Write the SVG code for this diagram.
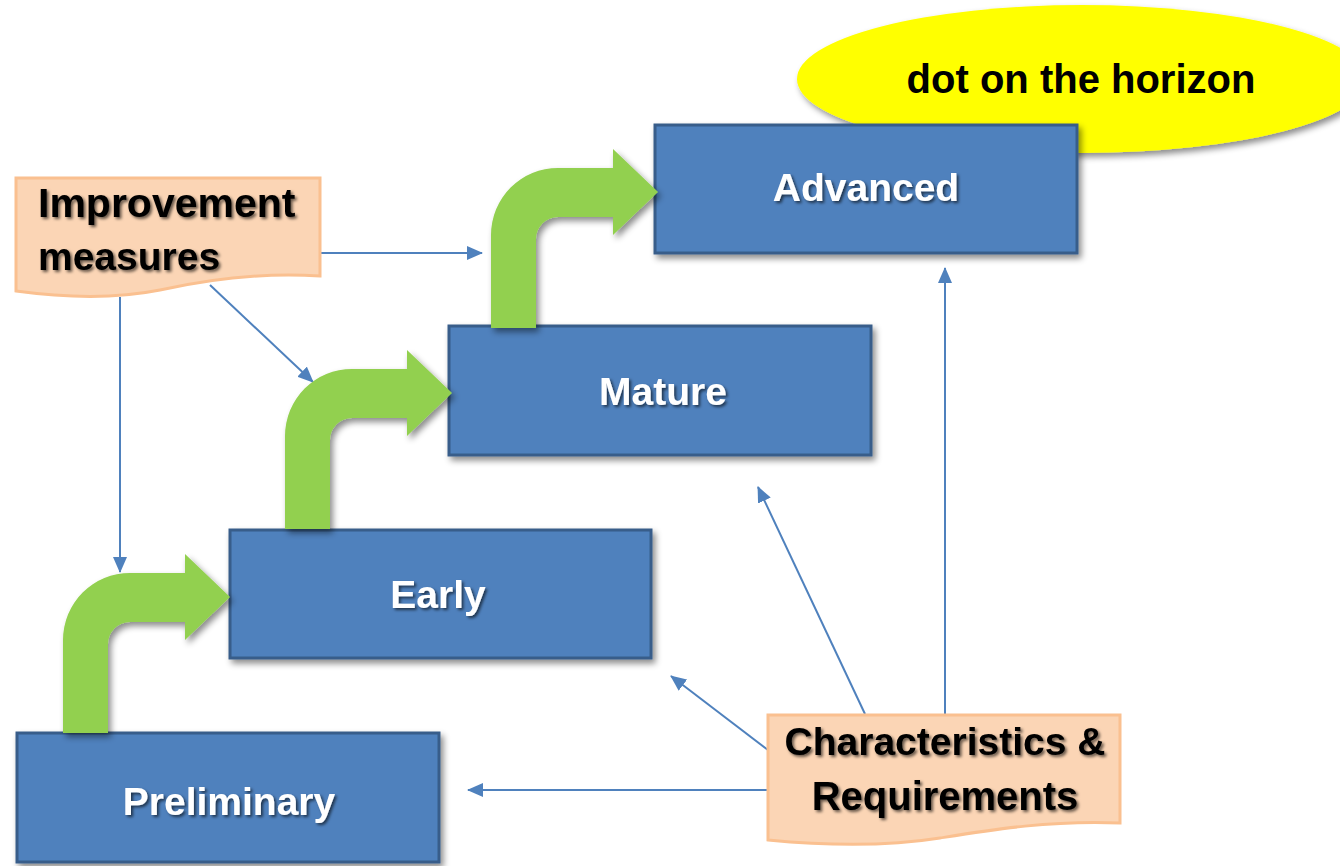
<svg xmlns="http://www.w3.org/2000/svg" width="1340" height="866" viewBox="0 0 1340 866">
<style>
.stage{fill:#4F81BD;stroke:#385D8A;stroke-width:3;filter:url(#sh)}
.note{fill:#FBD5B5;stroke:#FAC090;stroke-width:3}
.lbl{font-family:"Liberation Sans",Arial,sans-serif;font-weight:bold;font-size:39px;text-anchor:middle;filter:url(#tsh)}
.w{fill:#FFFFFF}
.k{fill:#000000}
.conn{stroke:#4F81BD;stroke-width:2;fill:none;marker-end:url(#ah)}
.bend{fill:#92D050;filter:url(#sh)}
</style>
<defs>
<filter id="sh" x="-10%" y="-10%" width="130%" height="140%">
<feDropShadow dx="3" dy="4" stdDeviation="3" flood-color="#000" flood-opacity="0.45"/>
</filter>
<filter id="tsh" x="-10%" y="-20%" width="130%" height="150%">
<feDropShadow dx="2" dy="2" stdDeviation="1.5" flood-color="#000" flood-opacity="0.6"/>
</filter>
<marker id="ah" markerUnits="userSpaceOnUse" markerWidth="16" markerHeight="14" refX="15" refY="7" orient="auto">
<path d="M0,0 L16,7 L0,14 Z" fill="#4F81BD"/>
</marker>
<path id="bent" d="M-167,136 L-167,43 A67,67 0 0 1 -100,-24 L-45,-24 L-45,-43 L0,0 L-45,43 L-45,25 L-100,25 A22,22 0 0 0 -122,47 L-122,136 Z"/>
</defs>
<rect width="1340" height="866" fill="#FFFFFF"/>
<g id="horizon">
<ellipse cx="1082" cy="79" rx="285" ry="74" fill="#FFFF00" filter="url(#sh)"/>
<text class="lbl k" x="1081" y="93" style="filter:none;font-size:40px">dot on the horizon</text>
</g>
<g id="connectors">
<line class="conn" x1="321" y1="253" x2="482" y2="253"/>
<line class="conn" x1="120" y1="297" x2="120" y2="572"/>
<line class="conn" x1="210" y1="285" x2="313" y2="382"/>
<line class="conn" x1="768" y1="790" x2="468" y2="790"/>
<line class="conn" x1="768" y1="750" x2="671" y2="676"/>
<line class="conn" x1="865" y1="714" x2="758" y2="487"/>
<line class="conn" x1="945" y1="714" x2="945" y2="268"/>
</g>
<g id="advanced">
<rect class="stage" x="655" y="125" width="422" height="128"/>
<text class="lbl w" x="866" y="201">Advanced</text>
</g>
<g id="mature">
<rect class="stage" x="449" y="326" width="422" height="129"/>
<text class="lbl w" x="663" y="405">Mature</text>
</g>
<g id="early">
<rect class="stage" x="230" y="530" width="421" height="128"/>
<text class="lbl w" x="438" y="608">Early</text>
</g>
<g id="preliminary">
<rect class="stage" x="17" y="733" width="422" height="129"/>
<text class="lbl w" x="229" y="815">Preliminary</text>
</g>
<g id="bent-arrows">
<use href="#bent" class="bend" transform="translate(230,597)"/>
<use href="#bent" class="bend" transform="translate(452,393)"/>
<use href="#bent" class="bend" transform="translate(658,192)"/>
</g>
<g id="improvement">
<path class="note" d="M16,178 L320,178 L320,276 C260,272 205,280 160,290 C110,300 60,297 16,291 Z"/>
<text class="lbl k" x="38" y="217" style="text-anchor:start;font-size:41px">Improvement</text>
<text class="lbl k" x="38" y="270" style="text-anchor:start;font-size:39px">measures</text>
</g>
<g id="characteristics">
<path class="note" d="M768,715 L1120,715 L1120,823 C1050,820 990,830 940,838 C890,846 830,846 768,840 Z"/>
<text class="lbl k" x="945" y="755" style="font-size:39px">Characteristics &amp;</text>
<text class="lbl k" x="945" y="810" style="font-size:40px">Requirements</text>
</g>
</svg>
